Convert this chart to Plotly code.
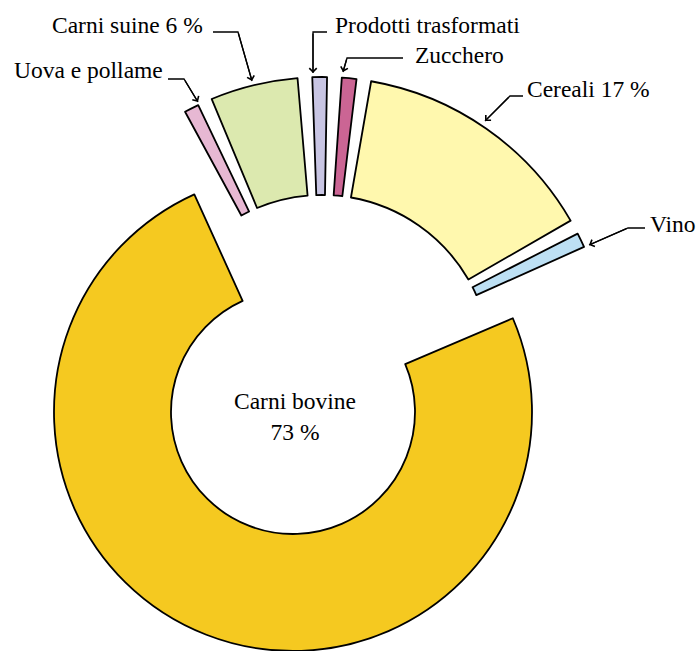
import plotly.graph_objects as go

# ---------------- data ----------------
categories = ["Carni bovine", "Uova e pollame", "Carni suine",
              "Prodotti trasformati", "Zucchero", "Cereali", "Vino"]
shares = [73, 1, 6, 1, 1, 17, 1]
label_texts = ["Carni bovine<br>73 %", "Uova e pollame", "Carni suine 6 %",
               "Prodotti trasformati", "Zucchero", "Cereali 17 %", "Vino"]

# ---------------- style ----------------
W, H = 696, 651
colors = ["#F5C920", "#E7B8D3", "#DCE9AF", "#C8C5E3", "#CB6594", "#FFF8AE", "#BDE0F4"]
CLEAR = "rgba(0,0,0,0)"
EDGE = 1.8
FONT = dict(family="Liberation Serif, Times New Roman, serif", size=23.5, color="black")

def fx(x):
    return x / W

def fy(y):
    return 1 - y / H

# main ring (Carni bovine): centre and radius in pixels, angular scale
A_CX, A_CY, A_R = 293, 412, 239
MAIN_UNITS = 97.8    # 360 deg = MAIN_UNITS (drawing exaggerates the main slice)
# exploded outer ring: centre and radius in pixels, angular scale
B_CX, B_CY, B_R = 322, 364, 287
RING_UNITS = 122     # 360 deg = RING_UNITS
GAP_UNITS = 1        # spacing between outer slices

fig = go.Figure()

# --- main slice ---
fig.add_trace(go.Pie(
    labels=[categories[0], "_rest"],
    values=[shares[0], MAIN_UNITS - shares[0]],
    sort=False,
    direction="clockwise",
    rotation=66.9,
    hole=122 / A_R,
    marker=dict(colors=[colors[0], CLEAR],
                line=dict(color="black", width=[EDGE, 0])),
    textinfo="none",
    hoverinfo="skip",
    domain=dict(x=[fx(A_CX - A_R), fx(A_CX + A_R)], y=[0, 2 * A_R / H]),
    showlegend=False,
))

# --- exploded ring of the other slices ---
r_labels, r_values, r_colors, r_widths = [], [], [], []
outer_idx = list(range(1, len(categories)))
for k, i in enumerate(outer_idx):
    r_labels.append(categories[i])
    r_values.append(shares[i])
    r_colors.append(colors[i])
    r_widths.append(EDGE)
    if k < len(outer_idx) - 1:
        r_labels.append(f"_gap{k}")
        r_values.append(GAP_UNITS)
        r_colors.append(CLEAR)
        r_widths.append(0)
r_labels.append("_rest")
r_values.append(RING_UNITS - sum(r_values))
r_colors.append(CLEAR)
r_widths.append(0)

fig.add_trace(go.Pie(
    labels=r_labels,
    values=r_values,
    sort=False,
    direction="clockwise",
    rotation=331.5,
    hole=169 / B_R,
    marker=dict(colors=r_colors, line=dict(color="black", width=r_widths)),
    textinfo="none",
    hoverinfo="skip",
    domain=dict(x=[fx(B_CX - B_R), fx(B_CX + B_R)], y=[0, 2 * B_R / H]),
    showlegend=False,
))

# ---------------- labels & leader lines (pixel layout) ----------------
label_layout = {
    "Carni bovine": ((295, 416, "center"), None),
    "Uova e pollame": ((12, 70, "left"), [(168, 79), (184, 79), (198, 102)]),
    "Carni suine": ((205, 25, "right"), [(213, 32), (238, 32), (252, 81)]),
    "Prodotti trasformati": ((333, 25, "left"), [(327, 32), (313, 32), (313, 73)]),
    "Zucchero": ((413, 55, "left"), [(403, 58), (347, 58), (343, 72)]),
    "Cereali": ((525, 89, "left"), [(523, 96), (510, 96), (485, 121)]),
    "Vino": ((648, 224, "left"), [(645, 228), (628, 228), (589, 245)]),
}

annotations = []
shapes = []
for cat, txt in zip(categories, label_texts):
    (tx, ty, anchor), poly = label_layout[cat]
    annotations.append(dict(
        x=fx(tx), y=fy(ty), xref="paper", yref="paper",
        text=txt, showarrow=False, xanchor=anchor, yanchor="middle",
        font=FONT, align="center",
    ))
    if poly:
        path = "M " + " L ".join(f"{fx(x)},{fy(y)}" for x, y in poly)
        shapes.append(dict(type="path", path=path, xref="paper", yref="paper",
                           line=dict(color="black", width=1.3)))
        (kx, ky), (tipx, tipy) = poly[-2], poly[-1]
        annotations.append(dict(
            x=fx(tipx), y=fy(tipy), xref="paper", yref="paper",
            text="", showarrow=True, arrowhead=4, arrowsize=1.1, arrowwidth=1.3,
            arrowcolor="black", ax=kx - tipx, ay=ky - tipy,
            axref="pixel", ayref="pixel", font=dict(size=1),
        ))

fig.update_layout(
    width=W, height=H,
    margin=dict(l=0, r=0, t=0, b=0),
    paper_bgcolor="white",
    plot_bgcolor="white",
    showlegend=False,
    annotations=annotations,
    shapes=shapes,
)

fig.write_html("out.html",
               config={"displayModeBar": False},
               post_script="document.body.style.margin='0';"
                           "document.body.style.overflow='hidden';")
